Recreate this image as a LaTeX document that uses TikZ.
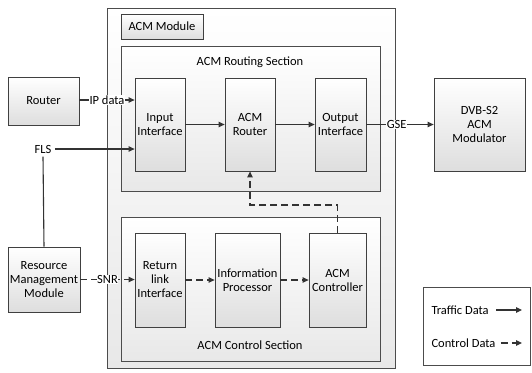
\documentclass[tikz,border=0pt]{standalone}
\usepackage{fontspec}
\setmainfont{Carlito}
\usetikzlibrary{arrows.meta,shadows}
\begin{document}
\begin{tikzpicture}[x=1pt,y=-1pt,
  font=\fontsize{12.5}{14}\selectfont,
  blk/.style={draw=black!75, line width=0.8pt, top color=white, bottom color=black!13,
    drop shadow={shadow xshift=1.2pt, shadow yshift=-1.2pt, fill=black!35, opacity=0.6},
    inner sep=0pt, align=center},
  frame/.style={draw=black!70, line width=0.8pt, top color=white, bottom color=black!9,
    drop shadow={shadow xshift=1.2pt, shadow yshift=-1.2pt, fill=black!35, opacity=0.6}},
  link/.style={draw=black!80, line width=1.1pt, -{Triangle[length=6pt,width=5.5pt]}},
  ctrl/.style={link, dash pattern=on 7pt off 4pt},
  tag/.style={fill=white, inner sep=0.5pt}
]
\useasboundingbox (0,0) rectangle (532,372);

% ACM module frame and its sections
\path[frame] (107,8) rectangle (395,368);
\node[blk, minimum width=82pt, minimum height=25pt] (acmlbl) at (162,26.5) {ACM Module};
\path[frame] (121,46) rectangle (380,191);
\node (routtitle) at (250,62) {ACM Routing Section};
\path[frame] (121,217) rectangle (380,361);
\node (ctrltitle) at (250,345) {ACM Control Section};

% routing section blocks
\node[blk, minimum width=50pt, minimum height=93pt] (inif) at (160,124.5) {Input\\Interface};
\node[blk, minimum width=50pt, minimum height=93pt] (router2) at (250,124.5) {ACM\\Router};
\node[blk, minimum width=51pt, minimum height=93pt] (outif) at (340.5,124.5) {Output\\Interface};

% control section blocks
\node[blk, minimum width=50pt, minimum height=94pt] (retif) at (160,280) {Return\\link\\Interface};
\node[blk, minimum width=65pt, minimum height=94pt] (infop) at (247.5,280) {Information\\Processor};
\node[blk, minimum width=57pt, minimum height=94pt] (ctrlr) at (337.5,280) {ACM\\Controller};

% external blocks
\node[blk, minimum width=71pt, minimum height=48pt] (router) at (43.5,101) {Router};
\node[blk, minimum width=72pt, minimum height=65pt] (rmm) at (44,279.5) {Resource\\Management\\Module};
\node[blk, minimum width=91pt, minimum height=93pt] (dvb) at (479.5,124.5) {DVB-S2\\ACM\\Modulator};
\node (fls) at (43,149) {FLS};

% traffic data
\draw[link] (router.east |- 0,100) -- node[tag, pos=0.5] {IP data} (inif.west |- 0,100);
\draw[link] (fls.east) -- (inif.west |- fls.east);
\draw[draw=black!80, line width=1.1pt] (fls.south) -- (rmm.north);
\draw[link] (inif.east) -- (router2.west);
\draw[link] (router2.east) -- (outif.west);
\draw[link] (outif.east) -- node[tag, pos=0.45] {GSE} (dvb.west);

% control data
\draw[ctrl] (rmm.east) -- node[tag, pos=0.5] {SNR} (retif.west |- rmm.east);
\draw[ctrl] (retif.east) -- (infop.west);
\draw[ctrl] (infop.east) -- (ctrlr.west);
\coordinate (up) at (ctrlr.north |- 0,205);
\draw[ctrl] (ctrlr.north) -- (up) -- (router2.south |- up) -- (router2.south);

% legend
\draw[draw=black!70, line width=0.8pt, fill=white,
  drop shadow={shadow xshift=1.2pt, shadow yshift=-1.2pt, fill=black!35, opacity=0.6}]
  (423,287) rectangle (530,365);
\node[anchor=west] (ltraf) at (428,310) {Traffic Data};
\node[anchor=west] (lctrl) at (428,343) {Control Data};
\coordinate (ltrafend) at (522,310);
\coordinate (lctrlend) at (522,343);
\draw[link] (ltraf.east) ++(4,0) coordinate (ltrafstart) -- (ltrafend);
\draw[ctrl] (lctrl.east) ++(2,0) coordinate (lctrlstart) -- (lctrlend);
\end{tikzpicture}
\end{document}
